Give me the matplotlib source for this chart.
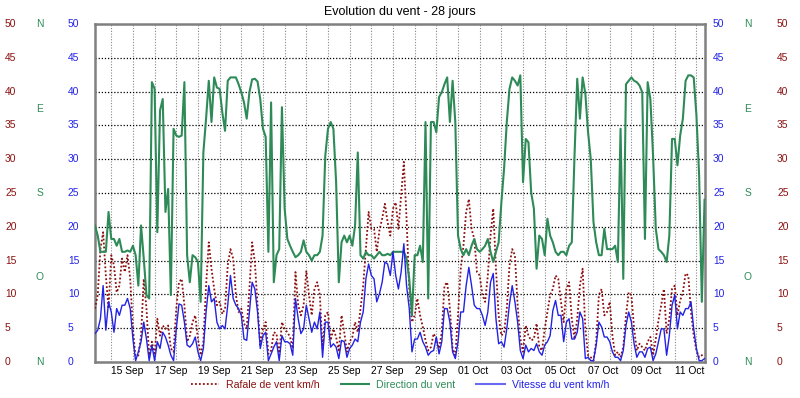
import matplotlib
matplotlib.use("Agg")
import matplotlib.pyplot as plt
import matplotlib.dates as mdates
import matplotlib.transforms as mtransforms
from matplotlib.lines import Line2D
import numpy as np
import pandas as pd

plt.rcParams['font.family'] = ['Liberation Sans', 'DejaVu Sans']

# ---------------- data (3-hourly, from 14 Sep 06:00) ----------------
start_time = "2017-09-14 06:00"
step = "3h"

# direction on the 0-50 chart scale (N=0/50, O=12.5, S=25, E=37.5)
direction = [
    20.2, 18.7, 16.3, 16.3, 16.3, 22.2, 18.2, 18.2, 17.2, 18.2, 16.3, 16.3, 16.5, 16.3, 17.2, 15.8,
    11.3, 20.2, 15.3, 9.9, 9.4, 41.4, 40.4, 19.2, 37.2, 38.9, 22.2, 25.6, 9.9, 34.5, 33.5, 33.3,
    33.5, 41.4, 15.8, 11.8, 15.8, 15.5, 14.8, 8.9, 31.0, 36.0, 41.6, 35.5, 42.1, 40.6, 40.4, 36.9,
    34.2, 41.6, 42.1, 42.1, 42.1, 41.1, 39.9, 38.4, 36.0,
    39.9, 41.8, 41.9, 41.5, 38.9, 34.5, 33.3, 16.3, 38.4, 11.8, 15.8, 16.7, 37.7, 22.7, 18.2, 17.2,
    16.3, 15.5, 15.8, 16.3, 18.0, 16.3, 15.8, 15.0, 15.8, 15.8, 16.3, 18.7, 30.5, 34.5, 35.5, 34.5,
    26.6, 11.8, 17.7, 18.7, 17.7, 18.7, 17.2, 20.2, 31.0, 15.8, 15.3, 16.3, 15.8, 15.8, 15.3, 15.8,
    16.3, 15.8, 15.8, 16.0, 15.8, 16.3, 16.3, 16.3,
    16.3, 16.3, 15.3, 12.3, 6.9, 15.8, 15.8, 17.2, 14.8, 35.5, 9.4, 35.5, 35.5, 34.0, 39.2, 39.9,
    41.1, 42.1, 35.5, 41.6, 35.5, 18.7, 16.7, 15.8, 16.7, 15.8, 17.2, 18.2, 16.7, 16.3, 16.7, 17.2,
    18.2, 16.3, 14.8, 16.3, 17.7, 23.6, 28.6, 35.5, 40.4, 42.1, 41.6, 40.9, 42.4, 26.6, 33.0, 32.5,
    25.1, 22.7, 13.8, 18.7, 18.2, 15.8, 21.2, 18.7,
    17.7, 16.3, 15.8, 16.3, 16.3, 15.8, 17.2, 17.7, 30.5, 41.9, 36.0, 42.1, 39.7, 34.0, 30.0, 20.7,
    17.7, 15.8, 15.8, 19.7, 16.7, 16.7, 16.7, 17.2, 14.8, 34.5, 12.3, 41.1, 41.6, 42.1, 41.6, 41.4,
    40.9, 39.9, 18.2, 41.4, 38.9, 30.5, 19.7, 16.7, 16.3, 15.8, 14.8, 18.7, 33.0, 33.0, 29.1, 33.5,
    36.0, 41.6, 42.4, 42.4, 42.1, 36.5, 27.6, 8.9, 24.0,
]

vitesse = [
    4.2, 4.7, 6.4, 11.3, 4.7, 8.9, 7.4, 4.4, 7.9, 6.9, 8.4, 8.4, 9.4, 7.9, 3.4, 0.2,
    1.5, 3.0, 5.9, 3.4, 0.2, 2.5, 0.2, 3.0, 2.0, 4.4, 3.7, 2.5, 1.0, 0.2, 4.9, 8.6,
    8.4, 5.9, 2.5, 2.2, 2.7, 3.7, 1.5, 0.2, 2.0, 7.4, 11.3, 8.9, 9.4, 5.9, 4.9, 5.4,
    4.9, 8.4, 12.8, 9.4, 8.4, 7.9, 6.9, 3.4, 3.2,
    7.4, 11.8, 10.8, 7.4, 2.0, 3.9, 4.4, 0.2, 1.2, 2.2, 3.0, 0.2, 3.9, 3.0, 3.0, 2.7,
    1.0, 9.4, 6.4, 4.2, 4.9, 8.4, 6.4, 4.4, 5.9, 4.9, 7.4, 0.7, 5.9, 5.9, 2.2, 2.7,
    2.2, 0.5, 3.2, 3.0, 0.7, 2.0, 2.5, 3.4, 3.0, 5.9, 7.4, 12.3, 14.5, 12.8, 12.3, 8.9,
    10.1, 11.8, 14.8, 14.5, 12.8, 16.3, 12.8, 10.8,
    13.3, 17.5, 11.3, 7.9, 1.5, 3.4, 3.4, 4.4, 3.0, 2.2, 1.0, 1.5, 1.7, 3.7, 1.2, 3.0,
    7.9, 7.9, 5.9, 1.5, 0.5, 3.0, 7.4, 7.4, 11.3, 14.0, 11.3, 8.4, 7.9, 7.9, 6.9, 5.4,
    7.4, 11.8, 13.1, 6.4, 2.7, 3.0, 2.2, 4.9, 8.6, 11.3, 8.9, 5.9, 1.7, 0.5, 2.5, 1.5,
    2.0, 1.7, 2.7, 1.5, 1.0, 2.5, 3.0, 3.9,
    7.6, 9.1, 6.9, 6.9, 3.0, 5.9, 6.4, 3.4, 3.4, 4.4, 7.4, 6.4, 0.5, 0.7, 0.2, 0.2,
    2.5, 5.9, 5.2, 3.7, 3.7, 3.0, 1.5, 0.7, 0.7, 0.2, 1.7, 5.4, 7.4, 5.9, 2.7, 0.7,
    1.5, 1.5, 0.7, 2.0, 2.2, 0.2, 1.2, 3.0, 4.9, 4.9, 1.0, 3.9, 8.4, 9.9, 4.9, 7.4,
    6.9, 7.9, 7.9, 8.9, 4.9, 2.0, 0.2, 0.2, 0.5,
]

rafale = [
    7.9, 9.9, 16.7, 19.2, 12.8, 7.9, 15.8, 14.3, 10.3, 11.3, 15.3, 13.3, 15.8, 12.3, 4.9, 0.5,
    1.0, 3.9, 12.3, 7.9, 0.7, 3.0, 1.0, 6.4, 3.9, 5.4, 4.9, 5.4, 2.0, 1.5, 7.9, 11.8,
    12.3, 8.4, 3.0, 3.9, 5.9, 6.9, 3.4, 1.0, 3.0, 11.3, 17.7, 13.8, 10.8, 8.4, 8.9, 7.1,
    7.9, 14.3, 16.7, 15.3, 9.9, 7.4, 7.9, 5.7, 4.9,
    10.8, 17.7, 14.8, 8.4, 2.5, 4.9, 5.9, 1.2, 1.7, 4.4, 4.2, 1.0, 5.9, 4.9, 4.4, 3.7,
    2.0, 13.3, 8.4, 6.9, 8.4, 13.5, 9.9, 6.9, 10.8, 11.8, 9.9, 2.0, 6.9, 7.4, 3.2, 4.9,
    3.7, 1.5, 6.9, 4.4, 1.5, 3.0, 3.7, 5.9, 4.4, 7.9, 11.3, 16.7, 22.2, 19.7, 19.7, 16.3,
    19.5, 21.2, 23.4, 20.7, 18.7, 22.7, 23.6, 19.7,
    24.6, 29.6, 21.2, 10.8, 5.9, 6.9, 9.4, 6.9, 5.2, 3.2, 1.7, 2.2, 4.2, 3.4, 2.0, 4.4,
    11.3, 11.8, 7.9, 2.0, 1.0, 6.9, 13.8, 17.2, 22.2, 24.1, 19.7, 18.2, 13.3, 12.8, 9.9, 8.9,
    12.8, 18.7, 22.7, 13.8, 6.9, 3.9, 4.4, 7.9, 14.3, 16.7, 15.8, 8.4, 3.4, 1.5, 5.4, 3.9,
    3.2, 3.4, 5.7, 2.2, 1.7, 4.9, 7.4, 9.9,
    10.8, 12.8, 12.3, 8.9, 5.9, 10.8, 11.8, 6.4, 3.4, 6.4, 11.3, 13.8, 4.9, 1.0, 0.7, 0.2,
    3.0, 9.9, 10.8, 6.9, 7.4, 8.9, 3.9, 1.0, 1.5, 0.7, 2.2, 6.9, 10.3, 9.9, 4.9, 1.7,
    2.7, 2.2, 1.7, 3.0, 3.7, 1.0, 3.4, 6.2, 8.4, 10.8, 4.2, 6.4, 10.8, 11.3, 6.9, 9.1,
    10.3, 13.1, 12.8, 7.4, 3.9, 1.7, 0.7, 1.0, 1.2,
]

speed_ticks = [0, 5, 10, 15, 20, 25, 30, 35, 40, 45, 50]
dir_ticks = [0, 12.5, 25, 37.5, 50]
dir_labels = ["N", "O", "S", "E", "N"]
x_start = "2017-09-14 06:00"
x_end = "2017-10-12 09:30"

title = "Evolution du vent - 28 jours"
lab_raf = "Rafale de vent km/h"
lab_dir = "Direction du vent"
lab_vit = "Vitesse du vent km/h"

C_RED = "#8b1010"
C_GREEN = "#2e8b57"
C_BLUE = "#2222e6"
FS = 7.4

# ---------------- figure ----------------
times = pd.date_range(start_time, periods=len(vitesse), freq=step)

fig = plt.figure(figsize=(8.0, 3.98), dpi=100)
ax = fig.add_axes([95/800, 1-362/398, 610/800, 338/398])

ax.plot(times, rafale, color=C_RED, lw=1.3, ls=(0, (1, 1.2)), label=lab_raf, zorder=3)
ax.plot(times, direction, color=C_GREEN, lw=1.5, label=lab_dir, zorder=4)
ax.plot(times, vitesse, color=C_BLUE, lw=1.0, label=lab_vit, zorder=5)

ax.set_ylim(0, 50)
ax.set_xlim(pd.Timestamp(x_start), pd.Timestamp(x_end))

# grid
ax.set_yticks(speed_ticks)
ax.yaxis.grid(True, color="black", ls=(0, (1, 1.5)), lw=0.9)
ax.xaxis.set_major_locator(mdates.DayLocator(bymonthday=range(1, 32, 2)))
ax.xaxis.set_minor_locator(mdates.DayLocator())
ax.xaxis.set_major_formatter(mdates.DateFormatter("%d %b"))
ax.xaxis.grid(True, which="both", color="#888888", ls=(0, (1, 1.5)), lw=0.8)
ax.tick_params(axis="both", which="both", length=0)
ax.tick_params(axis="x", labelsize=FS, pad=3)
for lbl in ax.get_xticklabels():
    lbl.set_ha("left")
ax.set_yticklabels([])
for s in ax.spines.values():
    s.set_color("#808080")
    s.set_linewidth(1.8)

# side scales
tr = mtransforms.blended_transform_factory(fig.transFigure, ax.transData)
for v in speed_ticks:
    ax.text(5/800, v, str(v), transform=tr, color=C_RED, fontsize=FS, ha="left", va="center")
    ax.text(68/800, v, str(v), transform=tr, color=C_BLUE, fontsize=FS, ha="left", va="center")
    ax.text(713/800, v, str(v), transform=tr, color=C_BLUE, fontsize=FS, ha="left", va="center")
    ax.text(777/800, v, str(v), transform=tr, color=C_RED, fontsize=FS, ha="left", va="center")
for v, t in zip(dir_ticks, dir_labels):
    ax.text(40/800, v, t, transform=tr, color=C_GREEN, fontsize=FS, ha="center", va="center")
    ax.text(748/800, v, t, transform=tr, color=C_GREEN, fontsize=FS, ha="center", va="center")

fig.text(0.5, 1-12/398, title, ha="center", va="center", fontsize=9.0)

handles = [Line2D([], [], color=C_RED, lw=1.3, ls=(0, (1, 1.2))),
           Line2D([], [], color=C_GREEN, lw=1.5),
           Line2D([], [], color="#6a6af0", lw=1.5)]
leg = fig.legend(handles, [lab_raf, lab_dir, lab_vit], loc="center",
                 bbox_to_anchor=(0.5, 1-385/398), ncol=3, frameon=False,
                 fontsize=7.6, handlelength=2.7, columnspacing=2.0, handletextpad=0.65)
for txt, c in zip(leg.get_texts(), [C_RED, C_GREEN, C_BLUE]):
    txt.set_color(c)

fig.savefig("out.png", dpi=100)
